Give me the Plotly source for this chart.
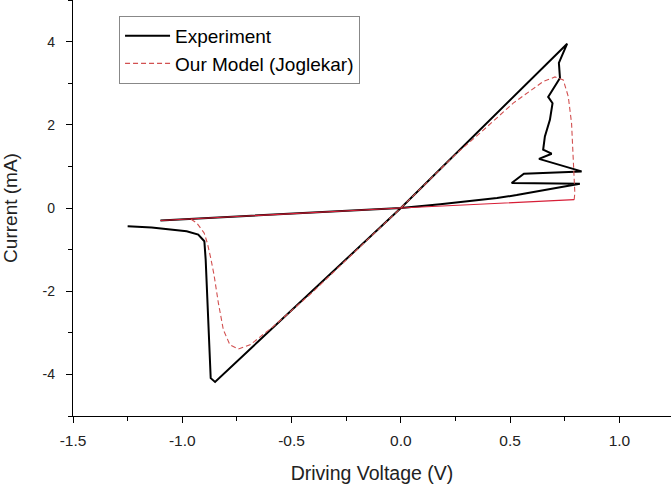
import plotly.graph_objects as go

# Experiment (black) trace: voltage (V) and current (mA)
exp_v = [-1.25, -1.14, -0.98, -0.927, -0.899, -0.893, -0.870, -0.850, 0.0,
         0.761, 0.723, 0.728, 0.674, 0.694, 0.682, 0.659, 0.651, 0.690, 0.632,
         0.827, 0.563, 0.507, 0.819, 0.72, 0.62, 0.53, 0.44, 0.30, 0.18, 0.0, -0.5, -1.1]
exp_i = [-0.44, -0.47, -0.56, -0.64, -0.80, -1.24, -4.09, -4.18, 0.0,
         3.95, 3.49, 3.125, 2.67, 2.52, 2.12, 1.72, 1.40, 1.305, 1.18,
         0.88, 0.825, 0.60, 0.585, 0.49, 0.39, 0.31, 0.24, 0.155, 0.09, 0.0, -0.14, -0.30]

# Model (Joglekar) dashed loops: positive branch, then negative branch
mod_pos_v = [0.0, 0.25, 0.362, 0.514, 0.651, 0.705, 0.743, 0.766, 0.781, 0.788, 0.793, 0.796, 0.793]
mod_pos_i = [0.0, 1.29, 1.80, 2.52, 3.04, 3.15, 3.08, 2.68, 2.04, 1.40, 0.84, 0.36, 0.20]
mod_neg_v = [-0.96, -0.934, -0.90, -0.885, -0.870, -0.855, -0.835, -0.812, -0.782, -0.744,
             -0.690, -0.584, -0.416, 0.0]
mod_neg_i = [-0.27, -0.36, -0.60, -0.85, -1.20, -1.60, -2.28, -2.93, -3.29, -3.39,
             -3.29, -2.85, -2.08, 0.0]
# Model low-conductance branch (drawn solid)
mod_off_v = [0.793, 0.0, -1.1]
mod_off_i = [0.20, 0.0, -0.30]

x_ticks = [-1.5, -1.0, -0.5, 0.0, 0.5, 1.0]
y_ticks = [-4, -2, 0, 2, 4]

font = "Liberation Sans, Arial, sans-serif"
txt = "#222222"

fig = go.Figure()
fig.add_trace(go.Scatter(x=exp_v, y=exp_i, mode="lines", name="Experiment",
                         line=dict(color="black", width=2)))
fig.add_trace(go.Scatter(x=mod_pos_v + [None] + mod_neg_v, y=mod_pos_i + [None] + mod_neg_i,
                         mode="lines", name="Our Model (Joglekar)", legendgroup="m",
                         line=dict(color="rgb(210,80,80)", width=1.1, dash="5px,3px")))
fig.add_trace(go.Scatter(x=mod_off_v, y=mod_off_i, mode="lines", showlegend=False,
                         legendgroup="m", line=dict(color="rgb(215,30,55)", width=1.2)))

axis_common = dict(showline=True, linecolor="black", linewidth=1.3, showgrid=False,
                   zeroline=False, ticks="outside", ticklen=6, tickwidth=1.3, tickcolor="black",
                   mirror=False)

fig.update_xaxes(**axis_common, range=[-1.5, 1.236], tickvals=x_ticks,
                 ticktext=[f"{v:.1f}" for v in x_ticks],
                 tickfont=dict(family=font, size=15.5, color=txt), ticklabelstandoff=4,
                 title=dict(text="Driving Voltage (V)", font=dict(family=font, size=19.5, color=txt), standoff=18),
                 minor=dict(ticks="outside", ticklen=4, tickwidth=1.2, tickcolor="black", dtick=0.25,
                            showgrid=False))
fig.update_yaxes(**axis_common, range=[-5, 5], tickvals=y_ticks,
                 ticktext=[str(v) for v in y_ticks],
                 tickfont=dict(family=font, size=14, color=txt), ticklabelstandoff=8,
                 title=dict(text="Current (mA)", font=dict(family=font, size=19, color=txt), standoff=20),
                 minor=dict(ticks="outside", ticklen=4, tickwidth=1.2, tickcolor="black", dtick=1,
                            showgrid=False))

fig.update_layout(
    width=671, height=487,
    margin=dict(l=73, r=0, t=0, b=71),
    plot_bgcolor="white", paper_bgcolor="white",
    showlegend=True,
    legend=dict(x=0.077, y=0.962, xanchor="left", yanchor="top",
                bgcolor="white", bordercolor="#888888", borderwidth=1,
                font=dict(family=font, size=19, color="black"),
                itemwidth=45, tracegroupgap=0),
)

fig.write_html("out.html")
